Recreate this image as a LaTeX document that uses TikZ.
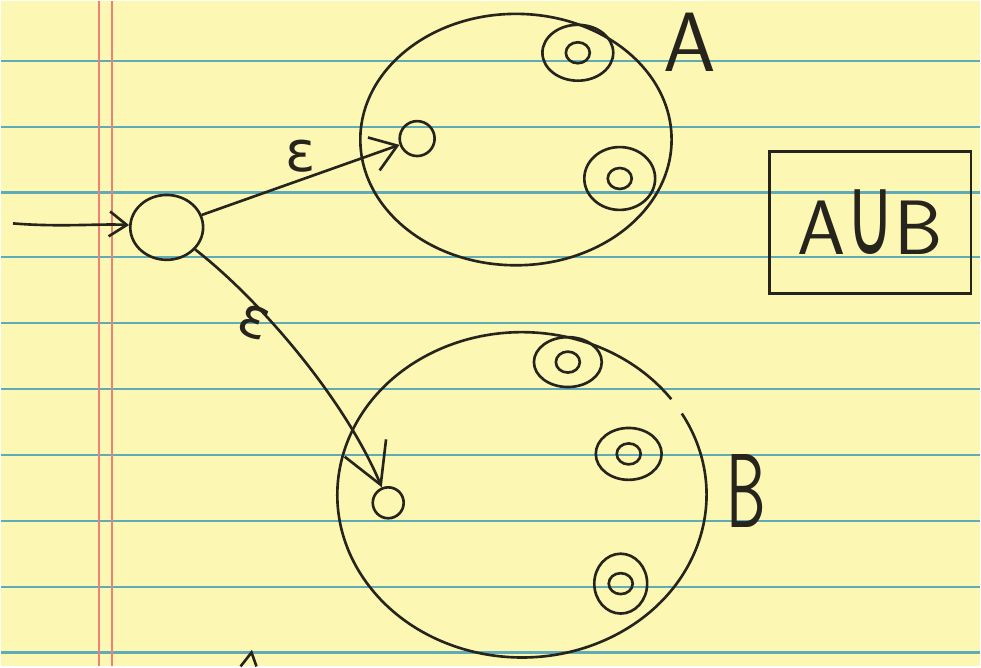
\documentclass[tikz,border=0pt]{standalone}
\usepackage{fontspec}
\newfontfamily\symfont{DejaVu Sans}
\usepackage{xcolor}
\usepackage{tikz}
\usetikzlibrary{shapes.geometric, arrows.meta, positioning, calc}
\definecolor{paper}{RGB}{252,247,178}
\definecolor{ruleblue}{RGB}{95,172,182}
\definecolor{marginred}{RGB}{238,128,118}
\definecolor{pencil}{RGB}{38,36,28}

\begin{document}
\begin{tikzpicture}[
  x=0.02cm, y=-0.02cm,
  ink/.style={draw=pencil, line width=1.5pt},
  start/.style={ink, ellipse, minimum width=1.46cm, minimum height=1.3cm,
                inner sep=0pt},
  state/.style={ink, circle, minimum size=0.7cm, inner sep=0pt},
  accept/.style={ink, ellipse, minimum width=1.42cm, minimum height=1.12cm,
                 inner sep=0pt,
                 path picture={\draw[pencil, line width=1.5pt]
                   (path picture bounding box.center) ellipse (0.24cm and 0.21cm);}},
  set/.style={ink, ellipse, inner sep=0pt},
  arrow/.style={ink, -{Straight Barb[length=0.5cm, width=0.7cm]}},
  hand/.style={font=\sffamily\fontsize{48}{52}\selectfont, text=pencil},
  eps/.style={font=\symfont\fontsize{32}{36}\selectfont, text=pencil},
]

%% Paper
\fill[paper] (0,0) rectangle (981,667);
\foreach \y in {60,126,192,257,323,389,455,521,587,653}
  \draw[ruleblue, line width=1.2pt] (0,\y) -- (981,\y);
\foreach \x in {98,111}
  \draw[marginred, line width=1pt] (\x,0) -- (\x,667);
\useasboundingbox (0,0) rectangle (981,667);

%% Sets
\node[set, minimum width=6.24cm, minimum height=5.04cm] (setA) at (516,139) {};
\node[set, draw=none, minimum width=7.4cm, minimum height=6.52cm] (setB) at (522,495) {};
\draw[ink] (setB.center) ++(-30:185 and 163)
  arc[start angle=-30, end angle=324, x radius=185, y radius=163];

%% States
\node[start] (q0) at (166,227) {};
\node[state] (qA) at (417,138) {};
\node[accept] (a1) at (578,52) {};
\node[accept, minimum height=1.26cm] (a2) at (620,178) {};
\node[state, minimum size=0.62cm] (qB) at (388,503) {};
\node[accept, minimum width=1.36cm, minimum height=1.0cm] (b1) at (568,362) {};
\node[accept, minimum width=1.32cm, minimum height=1.04cm] (b2) at (629,454) {};
\node[accept, minimum width=1.06cm, minimum height=1.2cm] (b3) at (621,584) {};

%% Labels
\node[hand] (labA) at (690,42) {A};
\node[hand, font=\sffamily\fontsize{60}{64}\selectfont] (labB) at (747,491) {\scalebox{0.6}[1]{B}};
\node[ink, hand, font=\sffamily\fontsize{44}{48}\selectfont,
      minimum width=4.04cm, minimum height=2.84cm] (union) at (871,222)
  {A\scalebox{0.85}[1.45]{\symfont ∪}B};

%% Transitions
\coordinate (in) at (12,223);
\draw[ink, -{Straight Barb[length=0.35cm, width=0.5cm]}]
  (in) .. controls (60,227) and (100,223) .. (q0);
\draw[arrow] (q0) -- (qA);
\node[eps] (e1) at (300,156) {ε};
\draw[ink, -{Straight Barb[length=0.8cm, width=0.9cm]}]
  (q0) .. controls (260,300) and (345,400) .. (qB);
\node[eps, rotate=-20] (e2) at (253,322) {ε};

%% Cut-off mark at the bottom edge
\draw[ink] (240,667) -- (251,653) -- (256,667);

\end{tikzpicture}
\end{document}
